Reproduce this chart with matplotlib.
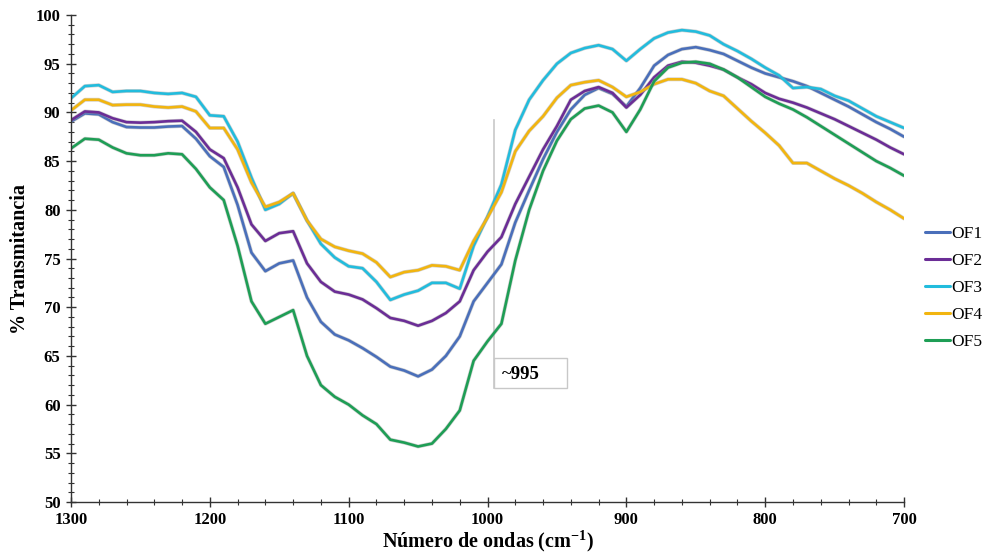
import numpy as np
import matplotlib
matplotlib.use("Agg")
import matplotlib.pyplot as plt
import matplotlib.patheffects as pe
from matplotlib.ticker import MultipleLocator
from matplotlib.patches import Rectangle

plt.rcParams['font.family'] = ['Liberation Serif', 'DejaVu Serif']
plt.rcParams['mathtext.fontset'] = 'custom'
plt.rcParams['mathtext.rm'] = 'Liberation Serif'
plt.rcParams['mathtext.bf'] = 'Liberation Serif:bold'

wavenumber = np.arange(1300, 699, -10)

of1 = [89.05, 89.9, 89.8, 89.0, 88.5, 88.45, 88.45, 88.55, 88.6, 87.3,
       85.5, 84.4, 80.5, 75.6, 73.7, 74.5, 74.8, 71.0, 68.5, 67.2,
       66.6, 65.8, 64.9, 63.9, 63.5, 62.9, 63.6, 65.0, 67.0, 70.6,
       72.5, 74.4, 78.7, 82.0, 85.2, 88.0, 90.3, 91.8, 92.5, 91.9,
       90.6, 92.5, 94.8, 95.9, 96.5, 96.7, 96.4, 96.0, 95.3, 94.6,
       94.0, 93.6, 93.2, 92.7, 92.0, 91.3, 90.6, 89.8, 89.0, 88.3, 87.5]
of2 = [89.2, 90.1, 90.0, 89.4, 89.0, 88.95, 89.0, 89.1, 89.15, 88.0,
       86.2, 85.3, 82.3, 78.5, 76.8, 77.6, 77.8, 74.5, 72.6, 71.6,
       71.3, 70.8, 69.9, 68.9, 68.6, 68.1, 68.6, 69.4, 70.6, 73.8,
       75.7, 77.2, 80.6, 83.4, 86.2, 88.6, 91.3, 92.2, 92.6, 92.0,
       90.5, 91.8, 93.6, 94.8, 95.2, 95.1, 94.8, 94.4, 93.6, 92.9,
       92.0, 91.4, 91.0, 90.5, 89.9, 89.3, 88.6, 87.9, 87.2, 86.4, 85.7]
of3 = [91.45, 92.7, 92.8, 92.1, 92.2, 92.2, 92.0, 91.9, 92.0, 91.6,
       89.7, 89.6, 87.0, 83.3, 80.0, 80.6, 81.7, 78.9, 76.5, 75.1,
       74.2, 74.0, 72.6, 70.75, 71.3, 71.7, 72.5, 72.5, 71.9, 76.3,
       79.3, 82.6, 88.2, 91.3, 93.3, 95.0, 96.1, 96.6, 96.9, 96.5,
       95.3, 96.5, 97.6, 98.2, 98.45, 98.3, 97.9, 97.0, 96.3, 95.5,
       94.6, 93.8, 92.5, 92.6, 92.4, 91.7, 91.2, 90.4, 89.6, 89.0, 88.4]
of4 = [90.2, 91.3, 91.3, 90.75, 90.8, 90.8, 90.6, 90.5, 90.6, 90.1,
       88.4, 88.4, 86.2, 82.8, 80.3, 80.8, 81.7, 78.9, 77.0, 76.2,
       75.8, 75.5, 74.6, 73.1, 73.6, 73.8, 74.3, 74.2, 73.8, 76.8,
       79.2, 81.8, 86.0, 88.1, 89.6, 91.5, 92.8, 93.1, 93.3, 92.6,
       91.6, 92.1, 92.9, 93.4, 93.4, 93.0, 92.2, 91.7, 90.4, 89.1,
       87.9, 86.6, 84.8, 84.8, 84.0, 83.2, 82.5, 81.7, 80.8, 80.0, 79.1]
of5 = [86.3, 87.3, 87.2, 86.4, 85.8, 85.6, 85.6, 85.8, 85.7, 84.2,
       82.3, 81.0, 76.3, 70.6, 68.3, 69.0, 69.7, 65.0, 62.0, 60.8,
       60.0, 58.9, 58.0, 56.4, 56.1, 55.7, 56.0, 57.5, 59.4, 64.5,
       66.5, 68.3, 74.8, 80.0, 84.0, 87.1, 89.3, 90.4, 90.7, 90.0,
       88.0, 90.3, 93.2, 94.6, 95.1, 95.2, 95.0, 94.4, 93.6, 92.6,
       91.6, 90.9, 90.3, 89.5, 88.6, 87.7, 86.8, 85.9, 85.0, 84.3, 83.5]

series_names = ['OF1', 'OF2', 'OF3', 'OF4', 'OF5']
series_values = [of1, of2, of3, of4, of5]
colors = ['#4A6FBA', '#6B2D96', '#22BCDD', '#F2B50F', '#1E9E55']

annot_x = 995
annot_label = '~995'

fig = plt.figure(figsize=(9.83, 5.56), dpi=100)
ax = fig.add_axes([0.0722, 0.0971, 0.8475, 0.8759])

for name, vals, c in zip(series_names, series_values, colors):
    ax.plot(wavenumber, vals, color=c, lw=1.9, label=name,
            solid_joinstyle='round', solid_capstyle='round',
            path_effects=[pe.Stroke(linewidth=2.8, foreground='#9a9a9a', alpha=0.45),
                          pe.Normal()])

ax.set_xlim(1300, 700)
ax.set_ylim(50, 100)
ax.xaxis.set_major_locator(MultipleLocator(100))
ax.xaxis.set_minor_locator(MultipleLocator(20))
ax.yaxis.set_major_locator(MultipleLocator(5))
ax.yaxis.set_minor_locator(MultipleLocator(1))

for s in ['top', 'right']:
    ax.spines[s].set_visible(False)
for s in ['left', 'bottom']:
    ax.spines[s].set_color('#333333')
    ax.spines[s].set_linewidth(1.0)

ax.tick_params(which='major', direction='inout', length=7, width=1.0,
               colors='#333333', labelcolor='black', labelsize=12, pad=4)
ax.tick_params(which='minor', direction='inout', length=4, width=0.8,
               colors='#333333')
for lab in ax.get_xticklabels() + ax.get_yticklabels():
    lab.set_fontweight('bold')

ax.set_ylabel('% Transmitancia', fontsize=14.5, fontweight='bold')
ax.yaxis.set_label_coords(-0.049, 0.5)
ax.set_xlabel(r'Número de ondas (cm$^{\mathbf{-1}}$)', fontsize=14.5,
              fontweight='bold')
ax.xaxis.set_label_coords(0.5, -0.054)

# annotation at ~995
ax.plot([annot_x, annot_x], [61.7, 89.2], color='#c8c8c8', lw=1.2, zorder=1)
ax.add_patch(Rectangle((annot_x, 61.7), -52.0, 3.1, facecolor='white',
                       edgecolor='#c8c8c8', lw=1.0, zorder=3))
ax.text(annot_x - 5.5, 63.1, annot_label, fontsize=13.5, fontweight='bold',
        ha='left', va='center', zorder=4)

leg = fig.legend(loc='center left', bbox_to_anchor=(0.941, 0.482),
                 frameon=False, fontsize=12.5, handlelength=1.45,
                 handletextpad=0.05, labelspacing=0.62, borderpad=0,
                 borderaxespad=0)
for line in leg.get_lines():
    line.set_linewidth(2.2)
    line.set_path_effects([])

fig.savefig('out.png', dpi=100)
